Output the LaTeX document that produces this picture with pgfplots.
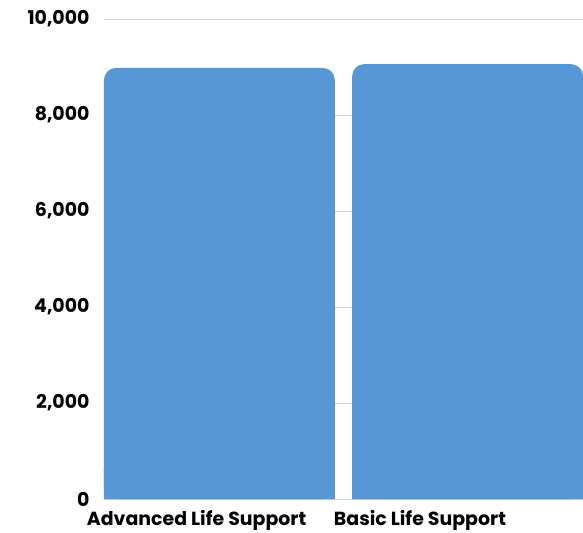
\documentclass[border=0pt]{standalone}
\usepackage{fontspec}
\setmainfont{Poppins}
\usepackage{pgfplots}
\pgfplotsset{compat=1.18}
\definecolor{barblue}{HTML}{5797D6}
\definecolor{gridgray}{HTML}{D0D0D0}
\begin{document}
\begin{tikzpicture}
\begin{axis}[
  scale only axis,
  width=479bp, height=480bp,
  ybar, bar width=0.93, bar shift=0pt,
  xmin=-0.465, xmax=1.465,
  ymin=0, ymax=10000,
  ytick={0,2000,...,10000},
  xtick={-0.092,0.808},
  xticklabels={Advanced Life Support,Basic Life Support},
  axis line style={draw=none},
  major tick length=0pt,
  ymajorgrids,
  grid style={gridgray, line width=0.8pt},
  scaled y ticks=false,
  /pgf/number format/1000 sep={,},
  /pgf/number format/assume math mode=true,
  ticklabel style={font=\fontsize{19}{22}\selectfont\bfseries},
  yticklabel style={xshift=-11bp},
  xticklabel style={yshift=-8bp},
  clip=false,
]
% square off the bottom corners
\addplot[draw=none, fill=barblue, sharp corners, forget plot] coordinates {
  (0,600)
  (1,600)
};
\addplot[draw=none, fill=barblue, rounded corners=12bp] coordinates {
  (0,8980)
  (1,9060)
};
\end{axis}
\pgfresetboundingbox
\path (current axis.south west) +(-104bp,-34bp) (current axis.north east) +(0,19bp);
\end{tikzpicture}
\end{document}
